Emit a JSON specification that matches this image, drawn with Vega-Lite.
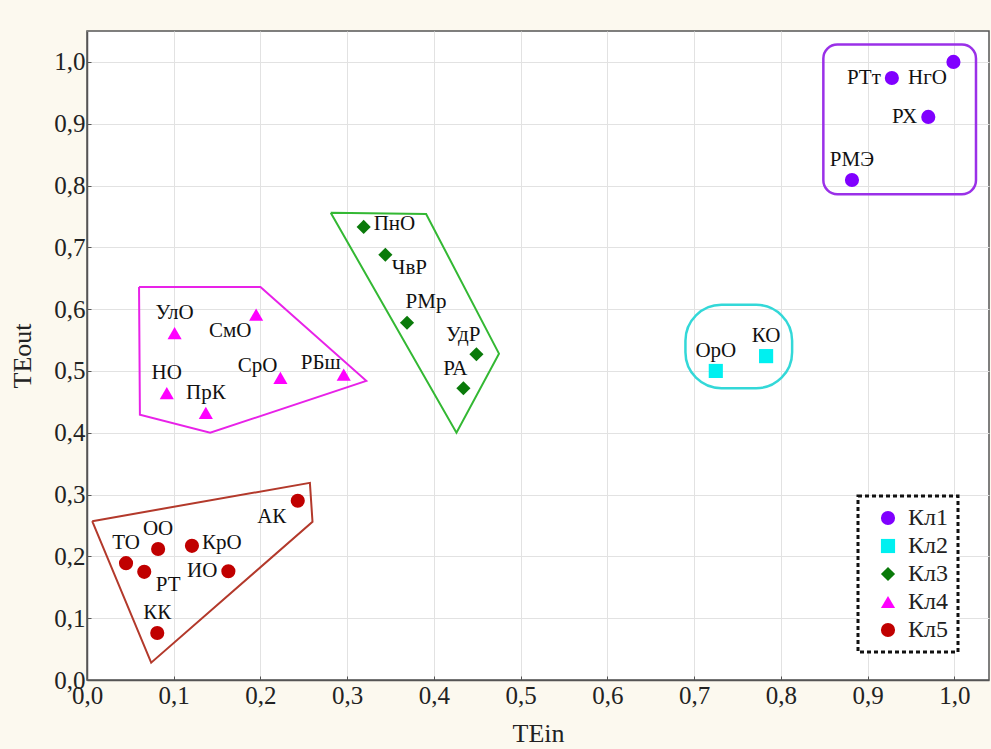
{
  "$schema": "https://vega.github.io/schema/vega-lite/v6.json",
  "autosize": "none",
  "padding": {"left": 87, "top": 31, "right": 2, "bottom": 69},
  "width": 902,
  "height": 649,
  "background": "#fcf9ef",
  "config": {
    "view": {"fill": "white", "stroke": "#555", "strokeWidth": 1.5},
    "axis": {
      "labelFont": "Liberation Serif", "labelFontSize": 25, "labelColor": "#222", "labelFlush": false,
      "titleFont": "Liberation Serif", "titleFontSize": 26, "titleColor": "#222", "titleFontWeight": "normal",
      "domainColor": "#555", "domainWidth": 1.5, "gridColor": "#e2e2e2", "gridWidth": 1,
      "tickColor": "#555", "tickSize": -4
    },
    "legend": {"labelFont": "Liberation Serif", "labelFontSize": 24, "labelColor": "#222",
      "strokeColor": "#111", "strokeDash": [4, 3], "strokeWidth": 3, "fillColor": "white"}
  },
  "datasets": {
    "pts": [
      {"name": "НгО", "cluster": "Кл1", "TEin": 0.999, "TEout": 1.0},
      {"name": "РТт", "cluster": "Кл1", "TEin": 0.928, "TEout": 0.974},
      {"name": "РХ", "cluster": "Кл1", "TEin": 0.970, "TEout": 0.911},
      {"name": "РМЭ", "cluster": "Кл1", "TEin": 0.882, "TEout": 0.809},
      {"name": "ОрО", "cluster": "Кл2", "TEin": 0.725, "TEout": 0.500},
      {"name": "КО", "cluster": "Кл2", "TEin": 0.783, "TEout": 0.524},
      {"name": "ПнО", "cluster": "Кл3", "TEin": 0.319, "TEout": 0.733},
      {"name": "ЧвР", "cluster": "Кл3", "TEin": 0.344, "TEout": 0.688},
      {"name": "РМр", "cluster": "Кл3", "TEin": 0.369, "TEout": 0.578},
      {"name": "УдР", "cluster": "Кл3", "TEin": 0.449, "TEout": 0.527},
      {"name": "РА", "cluster": "Кл3", "TEin": 0.434, "TEout": 0.472},
      {"name": "УлО", "cluster": "Кл4", "TEin": 0.101, "TEout": 0.561},
      {"name": "СмО", "cluster": "Кл4", "TEin": 0.195, "TEout": 0.591},
      {"name": "НО", "cluster": "Кл4", "TEin": 0.092, "TEout": 0.464},
      {"name": "ПрК", "cluster": "Кл4", "TEin": 0.137, "TEout": 0.432},
      {"name": "СрО", "cluster": "Кл4", "TEin": 0.223, "TEout": 0.489},
      {"name": "РБш", "cluster": "Кл4", "TEin": 0.296, "TEout": 0.494},
      {"name": "ТО", "cluster": "Кл5", "TEin": 0.045, "TEout": 0.189},
      {"name": "ОО", "cluster": "Кл5", "TEin": 0.082, "TEout": 0.212},
      {"name": "РТ", "cluster": "Кл5", "TEin": 0.066, "TEout": 0.175},
      {"name": "КрО", "cluster": "Кл5", "TEin": 0.121, "TEout": 0.217},
      {"name": "ИО", "cluster": "Кл5", "TEin": 0.163, "TEout": 0.176},
      {"name": "КК", "cluster": "Кл5", "TEin": 0.081, "TEout": 0.076},
      {"name": "АК", "cluster": "Кл5", "TEin": 0.243, "TEout": 0.290}
    ],
    "hull": [
      {"cluster": "Кл5", "ord": 1, "TEin": 0.006, "TEout": 0.257},
      {"cluster": "Кл5", "ord": 2, "TEin": 0.257, "TEout": 0.319},
      {"cluster": "Кл5", "ord": 3, "TEin": 0.260, "TEout": 0.256},
      {"cluster": "Кл5", "ord": 4, "TEin": 0.074, "TEout": 0.028},
      {"cluster": "Кл5", "ord": 5, "TEin": 0.006, "TEout": 0.257},
      {"cluster": "Кл4", "ord": 1, "TEin": 0.060, "TEout": 0.636},
      {"cluster": "Кл4", "ord": 2, "TEin": 0.200, "TEout": 0.636},
      {"cluster": "Кл4", "ord": 3, "TEin": 0.322, "TEout": 0.484},
      {"cluster": "Кл4", "ord": 4, "TEin": 0.142, "TEout": 0.400},
      {"cluster": "Кл4", "ord": 5, "TEin": 0.061, "TEout": 0.429},
      {"cluster": "Кл4", "ord": 6, "TEin": 0.060, "TEout": 0.636},
      {"cluster": "Кл3", "ord": 1, "TEin": 0.281, "TEout": 0.756},
      {"cluster": "Кл3", "ord": 2, "TEin": 0.391, "TEout": 0.754},
      {"cluster": "Кл3", "ord": 3, "TEin": 0.475, "TEout": 0.528},
      {"cluster": "Кл3", "ord": 4, "TEin": 0.426, "TEout": 0.400},
      {"cluster": "Кл3", "ord": 5, "TEin": 0.281, "TEout": 0.756}
    ],
    "boxes": [
      {"cluster": "Кл1", "x1": 0.849, "x2": 1.025, "y1": 0.786, "y2": 1.028},
      {"cluster": "Кл2", "x1": 0.690, "x2": 0.813, "y1": 0.472, "y2": 0.607}
    ]
  },
  "layer": [
    {
      "data": {"name": "pts"},
      "mark": {"type": "point", "filled": true, "size": 200, "opacity": 1},
      "encoding": {
        "x": {"field": "TEin", "type": "quantitative", "scale": {"domain": [0, 1.04], "nice": false},
          "axis": {"title": "TEin", "values": [0, 0.1, 0.2, 0.3, 0.4, 0.5, 0.6, 0.7, 0.8, 0.9, 1.0], "format": ".1f", "labelExpr": "replace(datum.label, '.', ',')", "labelPadding": 7, "titlePadding": 12}},
        "y": {"field": "TEout", "type": "quantitative", "scale": {"domain": [0, 1.05], "nice": false},
          "axis": {"title": "TEout", "values": [0, 0.1, 0.2, 0.3, 0.4, 0.5, 0.6, 0.7, 0.8, 0.9, 1.0], "format": ".1f", "labelExpr": "replace(datum.label, '.', ',')", "labelPadding": 6, "titlePadding": 18}},
        "color": {"field": "cluster", "type": "nominal",
          "scale": {"domain": ["Кл1", "Кл2", "Кл3", "Кл4", "Кл5"], "range": ["#8000ff", "#00f0f0", "#0a7a0a", "#ff00ff", "#c00000"]},
          "legend": {"title": null, "orient": "none", "legendX": 771, "legendY": 465, "padding": 10, "rowPadding": 4,
            "symbolSize": 200, "symbolOffset": 8, "labelOffset": 8}},
        "shape": {"field": "cluster", "type": "nominal",
          "scale": {"domain": ["Кл1", "Кл2", "Кл3", "Кл4", "Кл5"], "range": ["circle", "square", "diamond", "triangle-up", "circle"]},
          "legend": {"title": null, "orient": "none", "legendX": 771, "legendY": 465, "padding": 10, "rowPadding": 4,
            "symbolSize": 200, "symbolOffset": 8, "labelOffset": 8}}
      }
    },
    {
      "data": {"name": "hull"},
      "transform": [{"filter": "datum.cluster == 'Кл5'"}],
      "mark": {"type": "line", "strokeWidth": 2, "color": "#b3392b"},
      "encoding": {"x": {"field": "TEin", "type": "quantitative"}, "y": {"field": "TEout", "type": "quantitative"}, "order": {"field": "ord"}}
    },
    {
      "data": {"name": "hull"},
      "transform": [{"filter": "datum.cluster == 'Кл4'"}],
      "mark": {"type": "line", "strokeWidth": 2, "color": "#e822e8"},
      "encoding": {"x": {"field": "TEin", "type": "quantitative"}, "y": {"field": "TEout", "type": "quantitative"}, "order": {"field": "ord"}}
    },
    {
      "data": {"name": "hull"},
      "transform": [{"filter": "datum.cluster == 'Кл3'"}],
      "mark": {"type": "line", "strokeWidth": 2, "color": "#33b833"},
      "encoding": {"x": {"field": "TEin", "type": "quantitative"}, "y": {"field": "TEout", "type": "quantitative"}, "order": {"field": "ord"}}
    },
    {
      "data": {"name": "boxes"},
      "transform": [{"filter": "datum.cluster == 'Кл1'"}],
      "mark": {"type": "rect", "fill": null, "fillOpacity": 0, "stroke": "#9a30e8", "strokeWidth": 2.5, "cornerRadius": 14},
      "encoding": {
        "x": {"field": "x1", "type": "quantitative"},
        "x2": {"field": "x2"},
        "y": {"field": "y1", "type": "quantitative"},
        "y2": {"field": "y2"}
      }
    },
    {
      "data": {"name": "boxes"},
      "transform": [{"filter": "datum.cluster == 'Кл2'"}],
      "mark": {"type": "rect", "fill": null, "fillOpacity": 0, "stroke": "#33d8d8", "strokeWidth": 2.5, "cornerRadius": 36},
      "encoding": {
        "x": {"field": "x1", "type": "quantitative"},
        "x2": {"field": "x2"},
        "y": {"field": "y1", "type": "quantitative"},
        "y2": {"field": "y2"}
      }
    },
    {
      "data": {"name": "pts"},
      "transform": [{"filter": {"field": "name", "oneOf": ["РМЭ", "ОрО", "КО", "УлО", "НО", "ПрК", "ТО", "ОО", "КК"]}}],
      "mark": {"type": "text", "font": "Liberation Serif", "fontSize": 21, "color": "#111", "align": "center", "baseline": "middle", "dy": -20},
      "encoding": {"x": {"field": "TEin", "type": "quantitative"}, "y": {"field": "TEout", "type": "quantitative"}, "text": {"field": "name"}}
    },
    {
      "data": {"name": "pts"},
      "transform": [{"filter": {"field": "name", "oneOf": ["РТт", "РХ", "ИО"]}}],
      "mark": {"type": "text", "font": "Liberation Serif", "fontSize": 21, "color": "#111", "align": "right", "baseline": "middle", "dx": -11},
      "encoding": {"x": {"field": "TEin", "type": "quantitative"}, "y": {"field": "TEout", "type": "quantitative"}, "text": {"field": "name"}}
    },
    {
      "data": {"name": "pts"},
      "transform": [{"filter": {"field": "name", "oneOf": ["ПнО", "КрО"]}}],
      "mark": {"type": "text", "font": "Liberation Serif", "fontSize": 21, "color": "#111", "align": "left", "baseline": "middle", "dx": 10, "dy": -3},
      "encoding": {"x": {"field": "TEin", "type": "quantitative"}, "y": {"field": "TEout", "type": "quantitative"}, "text": {"field": "name"}}
    },
    {
      "data": {"name": "pts"},
      "transform": [{"filter": {"field": "name", "oneOf": ["УдР", "РА"]}}],
      "mark": {"type": "text", "font": "Liberation Serif", "fontSize": 21, "color": "#111", "align": "right", "baseline": "middle", "dx": 4, "dy": -19},
      "encoding": {"x": {"field": "TEin", "type": "quantitative"}, "y": {"field": "TEout", "type": "quantitative"}, "text": {"field": "name"}}
    },
    {
      "data": {"name": "pts"},
      "transform": [{"filter": {"field": "name", "oneOf": ["СрО", "РБш"]}}],
      "mark": {"type": "text", "font": "Liberation Serif", "fontSize": 21, "color": "#111", "align": "right", "baseline": "middle", "dx": -3, "dy": -12},
      "encoding": {"x": {"field": "TEin", "type": "quantitative"}, "y": {"field": "TEout", "type": "quantitative"}, "text": {"field": "name"}}
    },
    {
      "data": {"name": "pts"},
      "transform": [{"filter": {"field": "name", "oneOf": ["НгО", "СмО", "АК"]}}],
      "mark": {"type": "text", "font": "Liberation Serif", "fontSize": 21, "color": "#111", "align": "center", "baseline": "middle", "dx": -26, "dy": 16},
      "encoding": {"x": {"field": "TEin", "type": "quantitative"}, "y": {"field": "TEout", "type": "quantitative"}, "text": {"field": "name"}}
    },
    {
      "data": {"name": "pts"},
      "transform": [{"filter": {"field": "name", "oneOf": ["ЧвР", "РТ"]}}],
      "mark": {"type": "text", "font": "Liberation Serif", "fontSize": 21, "color": "#111", "align": "center", "baseline": "middle", "dx": 24, "dy": 13},
      "encoding": {"x": {"field": "TEin", "type": "quantitative"}, "y": {"field": "TEout", "type": "quantitative"}, "text": {"field": "name"}}
    },
    {
      "data": {"name": "pts"},
      "transform": [{"filter": {"field": "name", "oneOf": ["РМр"]}}],
      "mark": {"type": "text", "font": "Liberation Serif", "fontSize": 21, "color": "#111", "align": "center", "baseline": "middle", "dx": 19, "dy": -21},
      "encoding": {"x": {"field": "TEin", "type": "quantitative"}, "y": {"field": "TEout", "type": "quantitative"}, "text": {"field": "name"}}
    }
  ]
}
